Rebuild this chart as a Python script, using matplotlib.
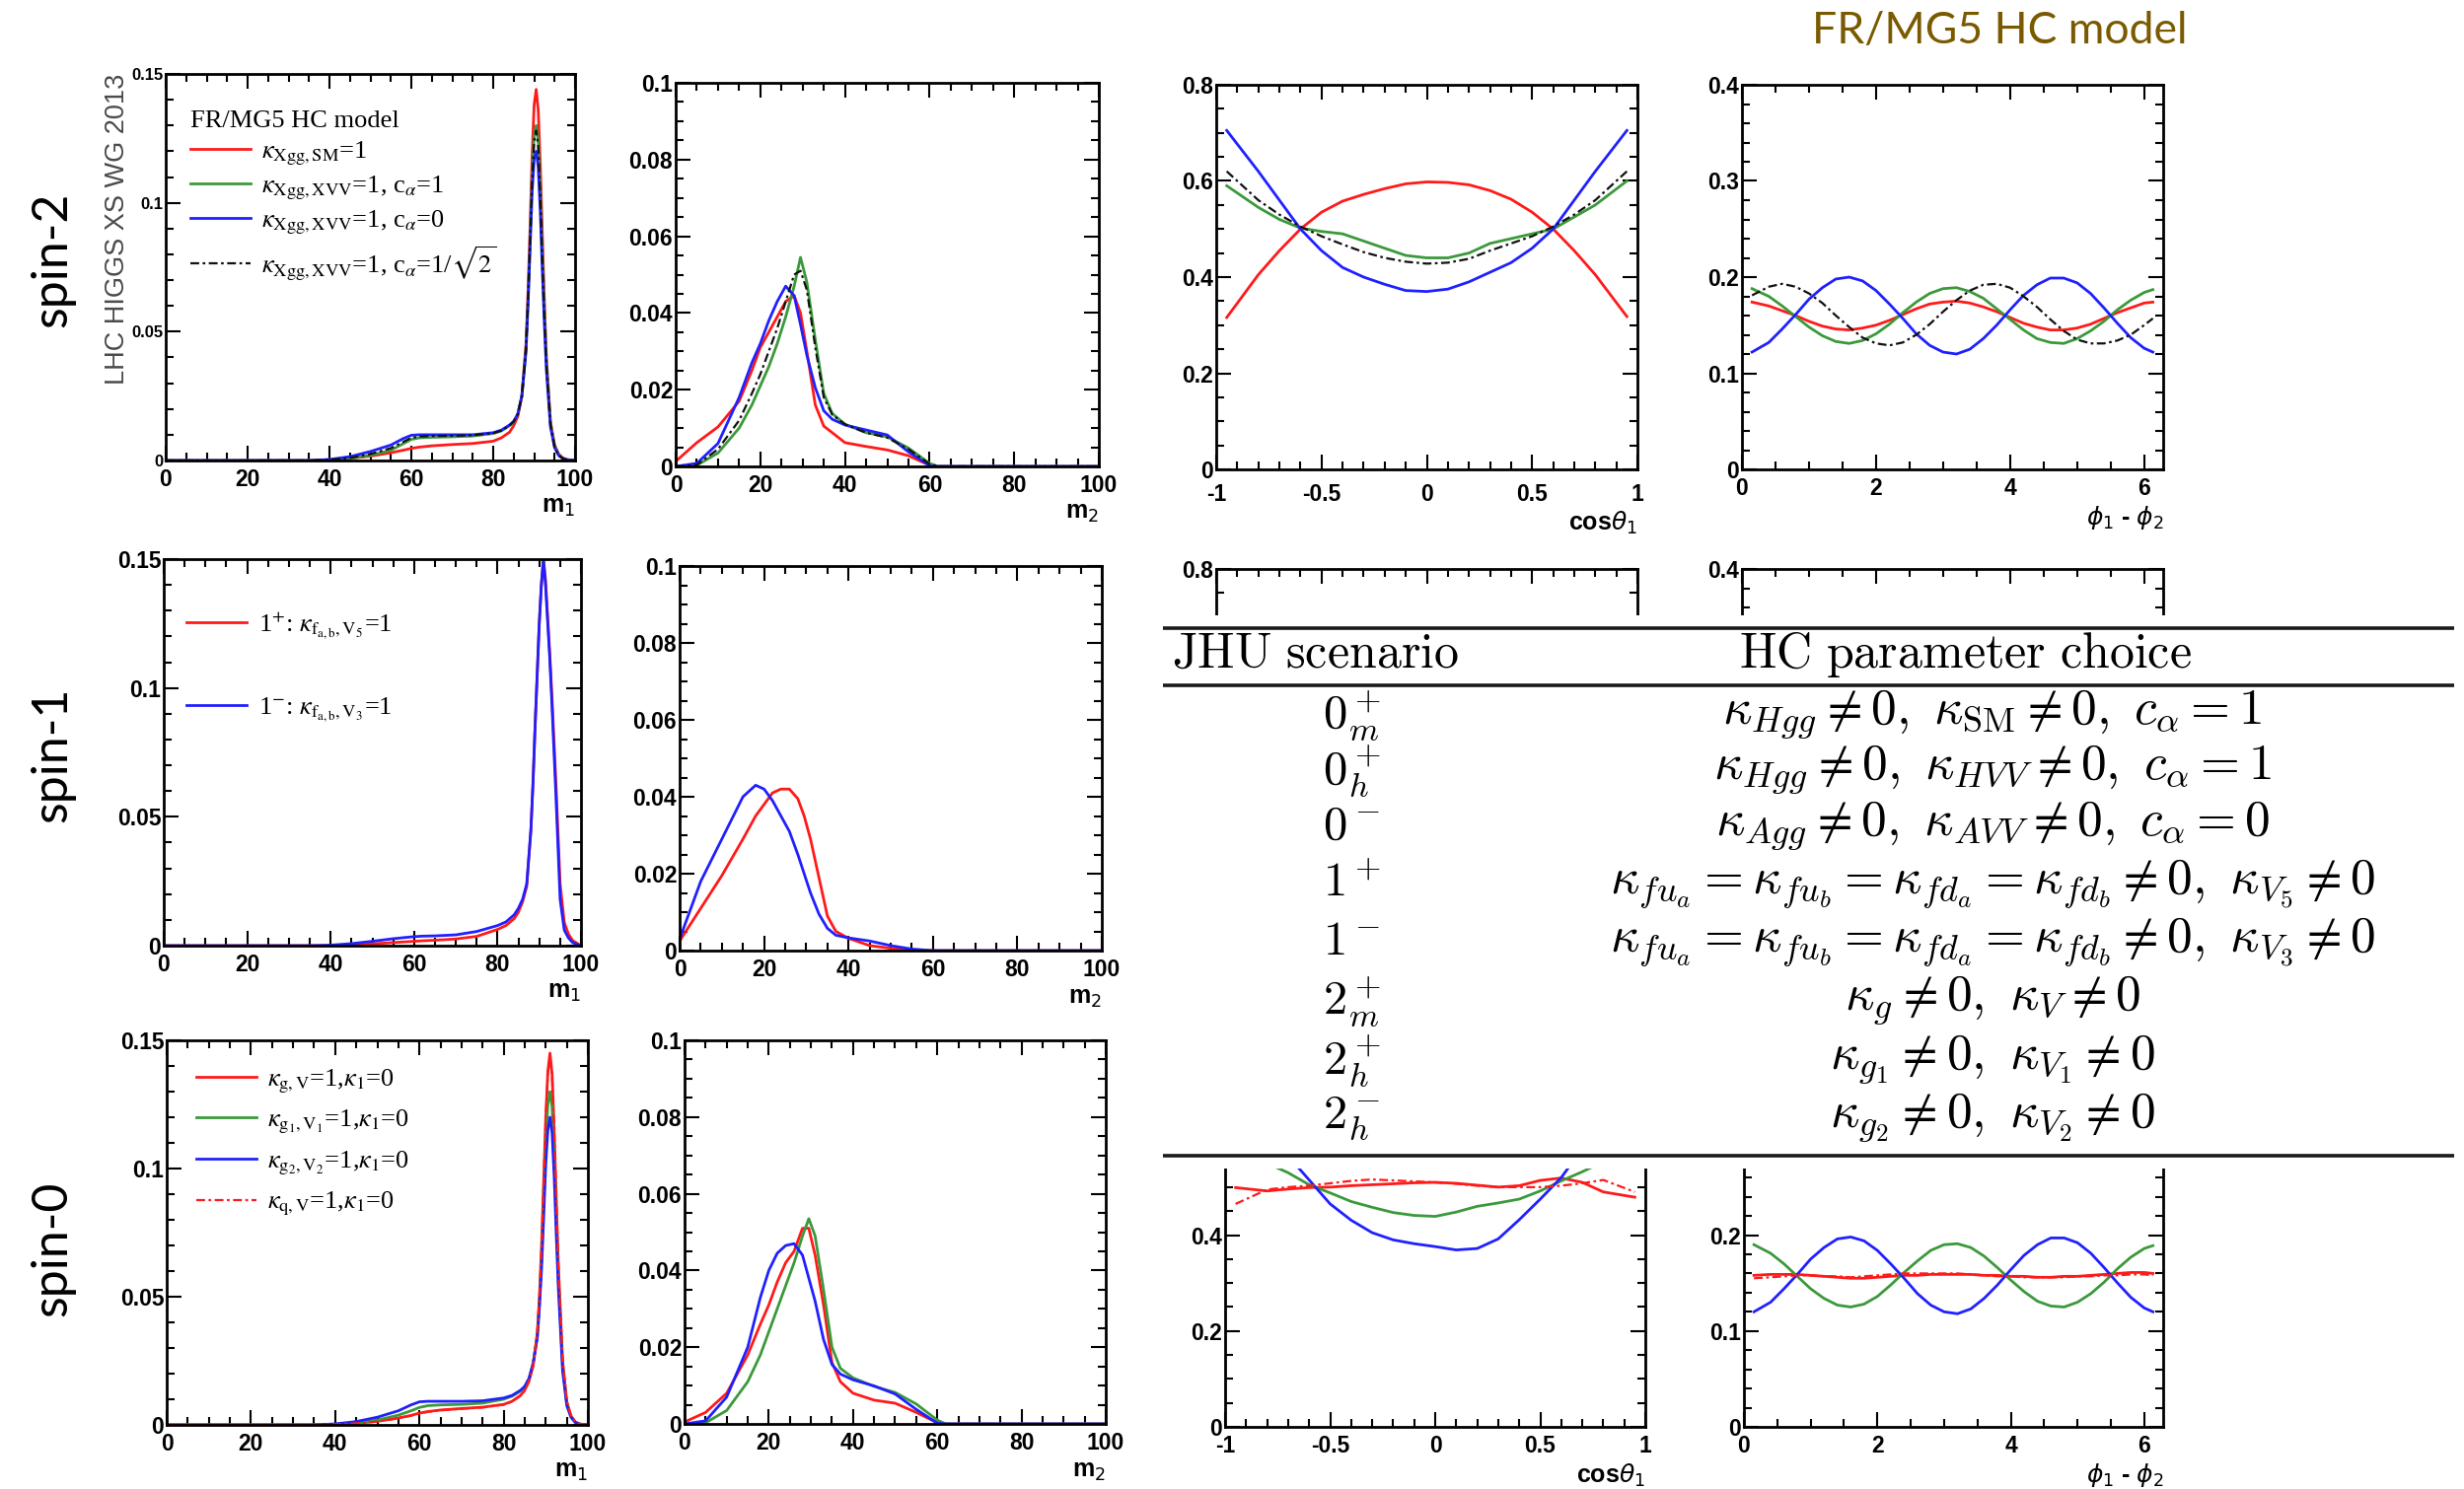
import matplotlib.pyplot as plt
from matplotlib.ticker import MultipleLocator, FuncFormatter
from matplotlib.font_manager import FontProperties

W, H = 2498, 1510

# ---------------- m1 distributions ----------------
m1_x = [0, 35, 40, 45, 50, 55, 58, 60, 62, 65, 70, 75, 80, 82, 84, 85, 86, 87, 88,
        88.5, 89, 89.5, 90, 90.5, 91, 91.5, 92, 92.5, 93, 94, 95, 96, 97, 98, 100]

# spin-2
s2_m1_sm = [0, 0, 0.0003, 0.0008, 0.0017, 0.003, 0.004, 0.0047, 0.0052, 0.0057, 0.0062, 0.0066,
            0.0075, 0.0088, 0.011, 0.0135, 0.017, 0.025, 0.045, 0.065, 0.090, 0.118, 0.138, 0.144,
            0.136, 0.115, 0.088, 0.062, 0.040, 0.015, 0.006, 0.0025, 0.001, 0.0004, 0]
s2_m1_c1 = [0, 0, 0.0002, 0.0008, 0.002, 0.004, 0.0065, 0.0082, 0.0088, 0.0090, 0.0092, 0.0095,
            0.0105, 0.0115, 0.0135, 0.015, 0.018, 0.025, 0.043, 0.062, 0.085, 0.110, 0.126, 0.130,
            0.124, 0.105, 0.080, 0.058, 0.038, 0.014, 0.0055, 0.002, 0.0008, 0.0003, 0]
s2_m1_c0 = [0, 0, 0.0004, 0.0015, 0.0035, 0.006, 0.0085, 0.0098, 0.0100, 0.0100, 0.0100, 0.0100,
            0.0108, 0.0118, 0.0138, 0.0152, 0.018, 0.025, 0.042, 0.060, 0.082, 0.104, 0.117, 0.120,
            0.114, 0.097, 0.074, 0.053, 0.035, 0.013, 0.005, 0.002, 0.0008, 0.0003, 0]
s2_m1_cs = [0, 0, 0.0003, 0.001, 0.0025, 0.0048, 0.0072, 0.0088, 0.0093, 0.0095, 0.0096, 0.0098,
            0.0106, 0.0116, 0.0136, 0.0151, 0.018, 0.025, 0.043, 0.062, 0.084, 0.108, 0.124, 0.128,
            0.122, 0.103, 0.078, 0.056, 0.037, 0.014, 0.0053, 0.002, 0.0008, 0.0003, 0]

# spin-1
s1_m1_p = [0, 0, 0, 0.0003, 0.0007, 0.0012, 0.0015, 0.0017, 0.0019, 0.0021, 0.0026, 0.0036,
           0.0063, 0.0078, 0.0105, 0.013, 0.017, 0.023, 0.045, 0.063, 0.085, 0.105, 0.125, 0.140,
           0.150, 0.142, 0.128, 0.114, 0.098, 0.063, 0.024, 0.009, 0.0045, 0.002, 0]
s1_m1_m = [0, 0, 0.0002, 0.0008, 0.0017, 0.0027, 0.0032, 0.0035, 0.0037, 0.0038, 0.0042, 0.0055,
           0.0078, 0.0092, 0.012, 0.0145, 0.018, 0.024, 0.045, 0.063, 0.085, 0.105, 0.125, 0.140,
           0.150, 0.140, 0.126, 0.112, 0.095, 0.058, 0.018, 0.006, 0.003, 0.0012, 0]

# spin-0 style couplings
s0_m1_gv = [0, 0, 0.0002, 0.0006, 0.0014, 0.0027, 0.0037, 0.0046, 0.0052, 0.0058, 0.0064, 0.0069,
            0.0080, 0.0092, 0.0115, 0.0135, 0.017, 0.023, 0.036, 0.050, 0.070, 0.095, 0.120, 0.138,
            0.145, 0.137, 0.115, 0.088, 0.062, 0.025, 0.009, 0.0035, 0.0012, 0.0004, 0]
s0_m1_g1 = [0, 0, 0.0002, 0.0008, 0.0019, 0.0038, 0.0055, 0.0068, 0.0075, 0.0078, 0.0080, 0.0085,
            0.0100, 0.0112, 0.0132, 0.015, 0.018, 0.024, 0.035, 0.048, 0.065, 0.087, 0.110, 0.125,
            0.130, 0.124, 0.105, 0.080, 0.057, 0.023, 0.008, 0.003, 0.001, 0.0003, 0]
s0_m1_g2 = [0, 0, 0.0004, 0.0013, 0.003, 0.0055, 0.0078, 0.0090, 0.0092, 0.0092, 0.0092, 0.0094,
            0.0105, 0.0115, 0.0135, 0.015, 0.018, 0.024, 0.034, 0.046, 0.061, 0.081, 0.102, 0.115,
            0.120, 0.114, 0.097, 0.074, 0.053, 0.021, 0.0075, 0.003, 0.001, 0.0003, 0]
s0_m1_qv = [0, 0, 0.0002, 0.0006, 0.0013, 0.0026, 0.0036, 0.0045, 0.0051, 0.0057, 0.0063, 0.0068,
            0.0079, 0.0091, 0.0114, 0.0134, 0.017, 0.023, 0.036, 0.050, 0.069, 0.094, 0.119, 0.137,
            0.143, 0.136, 0.114, 0.087, 0.061, 0.025, 0.009, 0.0035, 0.0012, 0.0004, 0]

# ---------------- m2 distributions ----------------
m2_x = [0, 5, 10, 15, 18, 20, 22, 24, 26, 28, 29.5, 31, 33, 35, 37, 40, 45, 50, 55, 60, 62, 100]

s2_m2_sm = [0.0013, 0.0062, 0.0103, 0.017, 0.025, 0.031, 0.035, 0.039, 0.043, 0.0445, 0.040, 0.030,
            0.016, 0.0105, 0.0088, 0.0062, 0.0052, 0.0043, 0.0028, 0.0003, 0, 0]
s2_m2_c1 = [0, 0.0003, 0.0035, 0.010, 0.016, 0.021, 0.026, 0.032, 0.039, 0.047, 0.0545, 0.048,
            0.033, 0.019, 0.0138, 0.011, 0.0088, 0.0077, 0.0048, 0.0008, 0, 0]
s2_m2_c0 = [0, 0.0008, 0.006, 0.018, 0.027, 0.032, 0.038, 0.043, 0.047, 0.0445, 0.037, 0.029,
            0.0205, 0.0145, 0.0123, 0.0108, 0.0095, 0.0082, 0.0038, 0.0002, 0, 0]
s2_m2_cs = [0, 0.0004, 0.0045, 0.012, 0.019, 0.024, 0.030, 0.036, 0.043, 0.050, 0.051, 0.046,
            0.031, 0.018, 0.0135, 0.011, 0.0088, 0.0075, 0.0045, 0.0006, 0, 0]

s1_m2_p = [0.0025, 0.011, 0.0195, 0.029, 0.035, 0.038, 0.041, 0.042, 0.042, 0.0395, 0.035, 0.029,
           0.019, 0.009, 0.005, 0.0032, 0.0013, 0.0006, 0.0002, 0, 0, 0]
s1_m2_m = [0.003, 0.018, 0.029, 0.040, 0.043, 0.042, 0.039, 0.035, 0.031, 0.025, 0.020, 0.015,
           0.0095, 0.0058, 0.0040, 0.0033, 0.0025, 0.0013, 0.0004, 0, 0, 0]

s0_m2_gv = [0.0005, 0.003, 0.008, 0.018, 0.026, 0.031, 0.037, 0.042, 0.045, 0.051, 0.051, 0.044,
            0.031, 0.016, 0.011, 0.008, 0.0062, 0.0054, 0.003, 0.0003, 0, 0]
s0_m2_g1 = [0, 0.0003, 0.0035, 0.011, 0.018, 0.024, 0.030, 0.036, 0.042, 0.049, 0.0535, 0.049,
            0.035, 0.020, 0.0145, 0.012, 0.0098, 0.0082, 0.0052, 0.001, 0, 0]
s0_m2_g2 = [0, 0.0008, 0.007, 0.020, 0.033, 0.040, 0.0445, 0.0465, 0.047, 0.044, 0.038, 0.032,
            0.022, 0.0155, 0.013, 0.0115, 0.0099, 0.0078, 0.0038, 0.0002, 0, 0]

# ---------------- cos(theta1) ----------------
cos_x = [-0.95, -0.8, -0.7, -0.6, -0.5, -0.4, -0.3, -0.2, -0.1, 0, 0.1, 0.2, 0.3, 0.4, 0.5,
         0.6, 0.7, 0.8, 0.95]

s2_cos_sm = [0.316, 0.405, 0.455, 0.50, 0.535, 0.558, 0.572, 0.584, 0.594, 0.598, 0.597, 0.592,
             0.58, 0.562, 0.535, 0.50, 0.455, 0.405, 0.318]
s2_cos_c1 = [0.59, 0.545, 0.52, 0.502, 0.495, 0.49, 0.475, 0.46, 0.445, 0.44, 0.44, 0.45, 0.47,
             0.48, 0.49, 0.50, 0.525, 0.55, 0.60]
s2_cos_c0 = [0.705, 0.62, 0.56, 0.50, 0.455, 0.42, 0.40, 0.385, 0.372, 0.37, 0.375, 0.39, 0.41,
             0.43, 0.46, 0.50, 0.56, 0.62, 0.705]
s2_cos_cs = [0.62, 0.56, 0.53, 0.505, 0.485, 0.468, 0.452, 0.44, 0.432, 0.428, 0.43, 0.438, 0.455,
             0.47, 0.485, 0.505, 0.53, 0.56, 0.62]

s0_cos_gv = [0.499, 0.492, 0.496, 0.499, 0.500, 0.503, 0.505, 0.507, 0.509, 0.510, 0.508, 0.504,
             0.500, 0.503, 0.514, 0.519, 0.51, 0.49, 0.479]
s0_cos_g1 = [0.59, 0.55, 0.53, 0.505, 0.488, 0.47, 0.458, 0.447, 0.441, 0.439, 0.448, 0.46, 0.467,
             0.475, 0.492, 0.513, 0.532, 0.553, 0.60]
s0_cos_g2 = [0.70, 0.62, 0.565, 0.515, 0.465, 0.431, 0.405, 0.39, 0.382, 0.376, 0.369, 0.372,
             0.392, 0.432, 0.475, 0.52, 0.58, 0.63, 0.70]
s0_cos_qv = [0.465, 0.495, 0.50, 0.503, 0.508, 0.513, 0.516, 0.514, 0.512, 0.510, 0.507, 0.503,
             0.50, 0.50, 0.50, 0.503, 0.508, 0.515, 0.49]

# ---------------- phi1 - phi2 ----------------
phi_x = [0.15, 0.4, 0.6, 0.8, 1.0, 1.2, 1.4, 1.6, 1.8, 2.0, 2.2, 2.4, 2.6, 2.8, 3.0, 3.2,
         3.4, 3.6, 3.8, 4.0, 4.2, 4.4, 4.6, 4.8, 5.0, 5.2, 5.4, 5.6, 5.8, 6.0, 6.13]

s2_phi_sm = [0.174, 0.170, 0.165, 0.160, 0.154, 0.149, 0.146, 0.145, 0.147, 0.150, 0.155, 0.161,
             0.167, 0.172, 0.174, 0.175, 0.173, 0.169, 0.164, 0.158, 0.152, 0.148, 0.145, 0.145,
             0.147, 0.151, 0.157, 0.163, 0.168, 0.173, 0.174]
s2_phi_c1 = [0.188, 0.180, 0.170, 0.159, 0.148, 0.139, 0.133, 0.131, 0.134, 0.141, 0.151, 0.163,
             0.174, 0.183, 0.188, 0.189, 0.185, 0.178, 0.167, 0.156, 0.145, 0.136, 0.132, 0.131,
             0.136, 0.144, 0.154, 0.166, 0.176, 0.184, 0.187]
s2_phi_c0 = [0.122, 0.132, 0.146, 0.161, 0.177, 0.189, 0.198, 0.200, 0.196, 0.186, 0.172, 0.157,
             0.141, 0.129, 0.122, 0.120, 0.125, 0.136, 0.150, 0.166, 0.181, 0.192, 0.199, 0.199,
             0.194, 0.183, 0.168, 0.152, 0.137, 0.126, 0.122]
s2_phi_cs = [0.181, 0.190, 0.193, 0.190, 0.183, 0.173, 0.160, 0.148, 0.137, 0.131, 0.129, 0.132,
             0.140, 0.151, 0.164, 0.176, 0.186, 0.192, 0.193, 0.189, 0.180, 0.169, 0.156, 0.144,
             0.135, 0.131, 0.131, 0.134, 0.140, 0.150, 0.157]

s0_phi_gv = [0.158, 0.159, 0.159, 0.159, 0.158, 0.157, 0.156, 0.155, 0.155, 0.156, 0.157, 0.158,
             0.158, 0.159, 0.159, 0.159, 0.159, 0.158, 0.158, 0.157, 0.157, 0.156, 0.156, 0.157,
             0.157, 0.158, 0.159, 0.160, 0.161, 0.161, 0.160]
s0_phi_g1 = [0.190, 0.181, 0.170, 0.157, 0.144, 0.134, 0.127, 0.125, 0.128, 0.136, 0.148, 0.161,
             0.173, 0.184, 0.190, 0.191, 0.187, 0.178, 0.166, 0.153, 0.141, 0.131, 0.126, 0.125,
             0.130, 0.139, 0.151, 0.165, 0.177, 0.186, 0.189]
s0_phi_g2 = [0.120, 0.130, 0.144, 0.159, 0.175, 0.187, 0.196, 0.198, 0.194, 0.184, 0.170, 0.155,
             0.139, 0.127, 0.120, 0.118, 0.123, 0.134, 0.148, 0.164, 0.179, 0.190, 0.197, 0.197,
             0.192, 0.181, 0.166, 0.150, 0.135, 0.124, 0.120]
s0_phi_qv = [0.155, 0.156, 0.157, 0.158, 0.158, 0.157, 0.157, 0.156, 0.157, 0.158, 0.159, 0.160,
             0.160, 0.160, 0.160, 0.160, 0.159, 0.158, 0.157, 0.157, 0.156, 0.156, 0.156, 0.156,
             0.157, 0.157, 0.158, 0.158, 0.159, 0.159, 0.158]

# ---------------- scenario table ----------------
jhu_scenarios = [r'$0^+_m$', r'$0^+_h$', r'$0^-$', r'$1^+$', r'$1^-$',
                 r'$2^+_m$', r'$2^+_h$', r'$2^-_h$']
hc_choices = [
    r'$\kappa_{Hgg}\neq 0,\ \kappa_{\mathrm{SM}}\neq 0,\ c_\alpha=1$',
    r'$\kappa_{Hgg}\neq 0,\ \kappa_{HVV}\neq 0,\ c_\alpha=1$',
    r'$\kappa_{Agg}\neq 0,\ \kappa_{AVV}\neq 0,\ c_\alpha=0$',
    r'$\kappa_{fu_a}=\kappa_{fu_b}=\kappa_{fd_a}=\kappa_{fd_b}\neq 0,\ \kappa_{V_5}\neq 0$',
    r'$\kappa_{fu_a}=\kappa_{fu_b}=\kappa_{fd_a}=\kappa_{fd_b}\neq 0,\ \kappa_{V_3}\neq 0$',
    r'$\kappa_g\neq 0,\ \kappa_V\neq 0$',
    r'$\kappa_{g_1}\neq 0,\ \kappa_{V_1}\neq 0$',
    r'$\kappa_{g_2}\neq 0,\ \kappa_{V_2}\neq 0$',
]

RED, GREEN, BLUE, BLACK = '#ff1a1a', '#3b993b', '#2020ff', '#111111'
DASHDOT = (0, (4, 1.6, 1.2, 1.6))
LW = 2.0

plt.rcParams['font.family'] = ['Liberation Sans', 'DejaVu Sans']
fig = plt.figure(figsize=(W / 100, H / 100), dpi=100)


def panel(x0, y0, x1, y1):
    return fig.add_axes([x0 / W, 1 - y1 / H, (x1 - x0) / W, (y1 - y0) / H])


def root_frame(ax, xlim, ylim, xmaj, xmin, ymaj, ymin, xlabel, ysize=16.5, xpad=6):
    # tick numbers and axis titles are heavy, like the ROOT canvases; the ticks are
    # built here, inside the bold context, so they keep that weight when drawn
    with plt.rc_context({'font.weight': 'bold'}):
        ax.set_xlim(*xlim)
        ax.set_ylim(*ylim)
        ax.xaxis.set_major_locator(MultipleLocator(xmaj))
        ax.xaxis.set_minor_locator(MultipleLocator(xmin))
        ax.yaxis.set_major_locator(MultipleLocator(ymaj))
        ax.yaxis.set_minor_locator(MultipleLocator(ymin))
        fmt = FuncFormatter(lambda v, p: '%g' % round(v, 6))
        ax.xaxis.set_major_formatter(fmt)
        ax.yaxis.set_major_formatter(fmt)
        ax.tick_params(which='both', direction='in', top=True, right=True, width=1.5)
        ax.tick_params(which='major', length=11)
        ax.tick_params(which='minor', length=6)
        ax.tick_params(axis='x', labelsize=16.5, pad=xpad)
        ax.tick_params(axis='y', labelsize=ysize, pad=2)
        for lab in (ax.get_xticklabels(which='both') + ax.get_yticklabels(which='both')):
            lab.set_fontweight('bold')
        for sp in ax.spines.values():
            sp.set_linewidth(2)
        if xlabel:
            ax.set_xlabel(xlabel, loc='right', fontsize=18, labelpad=3, fontweight='bold')


def cut_bottom(ax):
    # only the upper strip of this frame is left uncovered by the table
    ax.spines['bottom'].set_visible(False)
    ax.tick_params(axis='x', which='both', bottom=False, labelbottom=False)


def cut_top(ax):
    ax.spines['top'].set_visible(False)
    ax.tick_params(axis='x', which='both', top=False)


leg_font = FontProperties(family='Liberation Serif', size=19, weight='normal',
                          math_fontfamily='stix')
leg_kw = dict(prop=leg_font, loc='upper left', frameon=False, borderaxespad=0, borderpad=0,
              handlelength=2.3, handletextpad=0.45)

# ---- row 1 : spin-2 ----
ax = panel(168, 75, 583, 467)
l1, = ax.plot(m1_x, s2_m1_sm, color=RED, lw=LW)
l2, = ax.plot(m1_x, s2_m1_c1, color=GREEN, lw=LW)
l3, = ax.plot(m1_x, s2_m1_c0, color=BLUE, lw=LW)
l4, = ax.plot(m1_x, s2_m1_cs, color=BLACK, lw=1.6, ls=DASHDOT)
root_frame(ax, (0, 100), (0, 0.15), 20, 5, 0.05, 0.01, r'm$_1$', ysize=12)
ax.legend([l1, l2, l3, l4],
          [r'$\kappa_{\mathrm{Xgg,SM}}$=1',
           r'$\kappa_{\mathrm{Xgg,XVV}}$=1, c$_\alpha$=1',
           r'$\kappa_{\mathrm{Xgg,XVV}}$=1, c$_\alpha$=0',
           r'$\kappa_{\mathrm{Xgg,XVV}}$=1, c$_\alpha$=1/$\sqrt{2}$'],
          title='FR/MG5 HC model', title_fontproperties=leg_font, alignment='left',
          bbox_to_anchor=(0.06, 0.905), labelspacing=0.26, **leg_kw)
fig.text(119 / W, 1 - 232 / H, 'LHC HIGGS XS WG 2013', rotation=90, ha='center',
         va='center', fontsize=19.5, color='#4a4a4a', family='Liberation Sans')

ax = panel(685, 84, 1114, 473)
ax.plot(m2_x, s2_m2_sm, color=RED, lw=LW)
ax.plot(m2_x, s2_m2_c1, color=GREEN, lw=LW)
ax.plot(m2_x, s2_m2_c0, color=BLUE, lw=LW)
ax.plot(m2_x, s2_m2_cs, color=BLACK, lw=1.6, ls=DASHDOT)
root_frame(ax, (0, 100), (0, 0.1), 20, 5, 0.02, 0.005, r'm$_2$')

ax = panel(1233, 86, 1660, 476)
ax.plot(cos_x, s2_cos_sm, color=RED, lw=LW)
ax.plot(cos_x, s2_cos_c1, color=GREEN, lw=LW)
ax.plot(cos_x, s2_cos_c0, color=BLUE, lw=LW)
ax.plot(cos_x, s2_cos_cs, color=BLACK, lw=1.6, ls=DASHDOT)
root_frame(ax, (-1, 1), (0, 0.8), 0.5, 0.1, 0.2, 0.05, r'cos$\theta_1$', xpad=10)

ax = panel(1766, 86, 2193, 476)
ax.plot(phi_x, s2_phi_sm, color=RED, lw=LW)
ax.plot(phi_x, s2_phi_c1, color=GREEN, lw=LW)
ax.plot(phi_x, s2_phi_c0, color=BLUE, lw=LW)
ax.plot(phi_x, s2_phi_cs, color=BLACK, lw=1.6, ls=DASHDOT)
root_frame(ax, (0, 6.2832), (0, 0.4), 2, 0.5, 0.1, 0.02, r'$\phi_1$ - $\phi_2$')

# ---- row 2 : spin-1 ----
ax = panel(166, 567, 589, 959)
p1, = ax.plot(m1_x, s1_m1_p, color=RED, lw=LW)
p2, = ax.plot(m1_x, s1_m1_m, color=BLUE, lw=LW)
root_frame(ax, (0, 100), (0, 0.15), 20, 5, 0.05, 0.01, r'm$_1$')
ax.legend([p1, p2],
          [r'1$^{+}$: $\kappa_{\mathrm{f_{a,b}},\mathrm{V_5}}$=1',
           r'1$^{-}$: $\kappa_{\mathrm{f_{a,b}},\mathrm{V_3}}$=1'],
          bbox_to_anchor=(0.055, 0.87), labelspacing=2.1, **leg_kw)

ax = panel(689, 574, 1117, 964)
ax.plot(m2_x, s1_m2_p, color=RED, lw=LW)
ax.plot(m2_x, s1_m2_m, color=BLUE, lw=LW)
root_frame(ax, (0, 100), (0, 0.1), 20, 5, 0.02, 0.005, r'm$_2$')

# angular frames of this row: only their top edge shows above the table
ax = panel(1233, 577, 1660, 624)
root_frame(ax, (-1, 1), (0.8 * (1 - 47 / 390), 0.8), 0.5, 0.1, 0.2, 0.05, None)
cut_bottom(ax)
ax = panel(1766, 577, 2193, 624)
root_frame(ax, (0, 6.2832), (0.4 * (1 - 47 / 390), 0.4), 2, 0.5, 0.1, 0.02, None)
cut_bottom(ax)

# ---- row 3 : spin-0 like couplings ----
ax = panel(169, 1055, 596, 1445)
q1, = ax.plot(m1_x, s0_m1_gv, color=RED, lw=LW)
q2, = ax.plot(m1_x, s0_m1_g1, color=GREEN, lw=LW)
q3, = ax.plot(m1_x, s0_m1_g2, color=BLUE, lw=LW)
q4, = ax.plot(m1_x, s0_m1_qv, color=RED, lw=1.6, ls=DASHDOT)
root_frame(ax, (0, 100), (0, 0.15), 20, 5, 0.05, 0.01, r'm$_1$')
ax.legend([q1, q2, q3, q4],
          [r'$\kappa_{\mathrm{g,V}}$=1,$\kappa_1$=0',
           r'$\kappa_{\mathrm{g_1,V_1}}$=1,$\kappa_1$=0',
           r'$\kappa_{\mathrm{g_2,V_2}}$=1,$\kappa_1$=0',
           r'$\kappa_{\mathrm{q,V}}$=1,$\kappa_1$=0'],
          bbox_to_anchor=(0.07, 0.93), labelspacing=0.5, **leg_kw)

ax = panel(694, 1055, 1121, 1444)
ax.plot(m2_x, s0_m2_gv, color=RED, lw=LW)
ax.plot(m2_x, s0_m2_g1, color=GREEN, lw=LW)
ax.plot(m2_x, s0_m2_g2, color=BLUE, lw=LW)
root_frame(ax, (0, 100), (0, 0.1), 20, 5, 0.02, 0.005, r'm$_2$')

# lower angular frames: their upper part is hidden under the table
ax = panel(1242, 1185, 1668, 1447)
ax.plot(cos_x, s0_cos_gv, color=RED, lw=LW)
ax.plot(cos_x, s0_cos_g1, color=GREEN, lw=LW)
ax.plot(cos_x, s0_cos_g2, color=BLUE, lw=LW)
ax.plot(cos_x, s0_cos_qv, color=RED, lw=1.6, ls=DASHDOT)
root_frame(ax, (-1, 1), (0, 0.8 * 262 / 389), 0.5, 0.1, 0.2, 0.05, r'cos$\theta_1$')
cut_top(ax)

ax = panel(1768, 1185, 2193, 1447)
ax.plot(phi_x, s0_phi_gv, color=RED, lw=LW)
ax.plot(phi_x, s0_phi_g1, color=GREEN, lw=LW)
ax.plot(phi_x, s0_phi_g2, color=BLUE, lw=LW)
ax.plot(phi_x, s0_phi_qv, color=RED, lw=1.6, ls=DASHDOT)
root_frame(ax, (0, 6.2832), (0, 0.4 * 262 / 389), 2, 0.5, 0.1, 0.02, r'$\phi_1$ - $\phi_2$')
cut_top(ax)

# ---- scenario table ----
tab = fig.add_axes([1179 / W, 1 - 1185 / H, (W - 1179) / W, (1185 - 624) / H], zorder=10)
tab.set_facecolor('white')
tab.set_xticks([])
tab.set_yticks([])
for sp in tab.spines.values():
    sp.set_visible(False)
tab.set_xlim(1179, W)
tab.set_ylim(1185, 624)
tab.hlines([637, 695, 1172], 1179, 2488, color='#1a1a1a', lw=2.6)
cm_kw = dict(va='center', math_fontfamily='cm')
tab.text(1188, 664, r'$\mathrm{JHU\ scenario}$', ha='left', fontsize=36, **cm_kw)
tab.text(1992, 664, r'$\mathrm{HC\ parameter\ choice}$', ha='center', fontsize=36, **cm_kw)
row_y = [725, 781, 838, 897, 956, 1015, 1075, 1134]
for yy, scen, choice in zip(row_y, jhu_scenarios, hc_choices):
    tab.text(1370, yy, scen, ha='center', fontsize=35, **cm_kw)
    tab.text(2020, yy, choice, ha='center', fontsize=37, **cm_kw)

# ---- page annotations ----
fig.text(1837 / W, 1 - 32 / H, 'FR/MG5 HC model', ha='left', va='center', fontsize=32,
         color='#7a5a00', family='Lato')
for yy, name in zip([263, 765, 1266], ['spin-2', 'spin-1', 'spin-0']):
    fig.text(53 / W, 1 - yy / H, name, rotation=90, ha='center', va='center', fontsize=36,
             family='Lato')

fig.savefig('out.png', dpi=100, facecolor='white')
